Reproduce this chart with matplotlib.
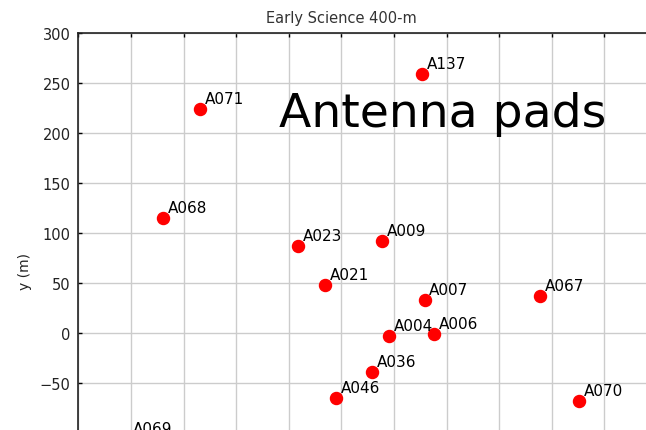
import matplotlib
matplotlib.use("Agg")
import matplotlib.pyplot as plt

# pad positions (m)
pads = ["A071", "A137", "A068", "A023", "A009", "A021", "A007", "A067",
        "A004", "A006", "A036", "A046", "A070", "A069"]
x_m = [-184, 27, -220, -91, -11, -66, 29, 139,
       -5, 38, -21, -55, 176, -253]
y_m = [224, 259, 115, 87, 92, 48, 33, 37,
       -3, -1, -39, -65, -68, -106]

W, H = 646, 431
fig = plt.figure(figsize=(W / 100, H / 100), dpi=100)

# the axes run past the bottom and right edge of the image (cropped view)
xlim = (-300, 300)
ylim = (-150, 300)
left_px, top_px = 78.4, 34.0
sx, sy = 1.052, 1.0  # px per metre
w_px = (xlim[1] - xlim[0]) * sx
h_px = (ylim[1] - ylim[0]) * sy
ax = fig.add_axes([left_px / W, 1 - (top_px + h_px) / H, w_px / W, h_px / H])
ax.set_xlim(*xlim)
ax.set_ylim(*ylim)
ax.set_xticks(range(-300, 301, 50))
ax.set_yticks(range(-50, 301, 50))
ax.set_xticklabels([])
ax.grid(True, color="#cccccc", lw=1.0)
ax.set_axisbelow(True)
ax.tick_params(direction="in", length=3, width=1, top=True, right=True,
               labelsize=10.5, pad=5.5, labelcolor="#222222")
for s in ax.spines.values():
    s.set_linewidth(1.2)
    s.set_color("#222222")

ax.scatter(x_m, y_m, s=75, color="#ff0000", zorder=3, clip_on=False)
for name, xx, yy in zip(pads, x_m, y_m):
    ax.annotate(name, (xx, yy), xytext=(3.5, 4.3), textcoords="offset points",
                ha="left", va="baseline", fontsize=11, color="black")

fig.text(341 / W, 1 - 18.5 / H, "Early Science 400-m", ha="center",
         va="center", fontsize=10.5, color="#333333")
fig.text(25 / W, 1 - 272 / H, "y (m)", rotation=90, ha="center",
         va="center", fontsize=10, color="#222222")
fig.text(279 / W, 1 - 127 / H, "Antenna pads", ha="left", va="baseline",
         fontsize=34, color="black")

fig.savefig("out.png", dpi=100)
